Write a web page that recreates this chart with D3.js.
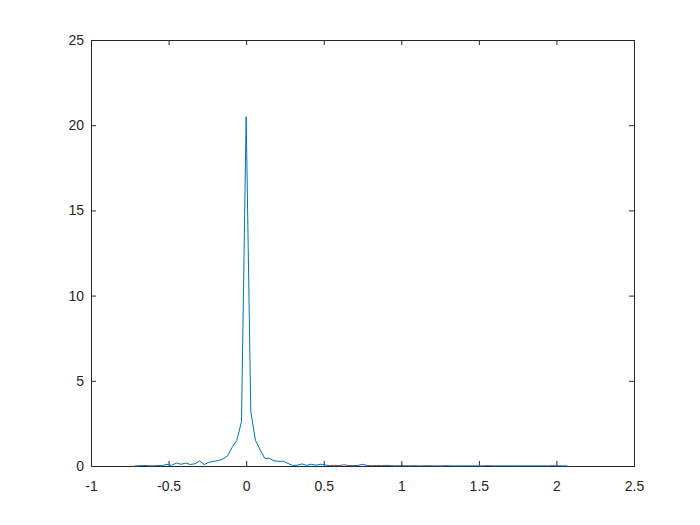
<!DOCTYPE html>
<html>
<head>
<meta charset="utf-8">
<script src="https://cdn.jsdelivr.net/npm/d3@7"></script>
<style>
  body { margin: 0; background: #fff; }
  svg { display: block; }
</style>
</head>
<body>
<script>
// bin centres (step 0.03) and density values
var xStart = -0.72, xStep = 0.03;
var density = [
  0, 0.02, 0.03, 0.02, 0.01, 0.03, 0.02, 0.1, 0.04, 0.18,
  0.1, 0.17, 0.09, 0.13, 0.3, 0.08, 0.22, 0.27, 0.32, 0.4,
  0.6, 1.1, 1.5, 2.6, 20.5, 3.2, 1.5, 0.95, 0.45, 0.45,
  0.3, 0.27, 0.28, 0.15, 0.03, 0.05, 0.12, 0.04, 0.1, 0.05,
  0.1, 0.06, 0.02, 0.04, 0.02, 0.07, 0.03, 0.02, 0.03, 0.1,
  0.03, 0.02, 0.03, 0.02, 0.04, 0.02, 0.01, 0.02, 0.02, 0.01,
  0.02, 0.01, 0.01, 0.02, 0.01, 0.01, 0.01, 0.02, 0.01, 0.01,
  0.01, 0.01, 0.01, 0.01, 0.01, 0.01, 0.02, 0.01, 0.01, 0.01,
  0.01, 0.01, 0.01, 0.01, 0.01, 0.01, 0.01, 0.01, 0.01, 0.01,
  0.02, 0.01, 0.01, 0.01
];
var xTicks = [-1, -0.5, 0, 0.5, 1, 1.5, 2, 2.5];
var yTicks = [0, 5, 10, 15, 20, 25];

var points = density.map(function(v, i) {
  return { x: xStart + i * xStep, y: v };
});

var width = 700, height = 525;
var margin = { left: 91, right: 66, top: 40, bottom: 59 };

var svg = d3.select("body").append("svg")
  .attr("width", width)
  .attr("height", height);

var x = d3.scaleLinear().domain([-1, 2.5]).range([margin.left, width - margin.right]);
var y = d3.scaleLinear().domain([0, 25]).range([height - margin.bottom, margin.top]);

var axisColor = "#262626";
var fontFam = "'Liberation Sans', Arial, Helvetica, sans-serif";
// plain hyphen for negatives, like the original
var fmt = function(d) { return String(d); };

function styleAxis(g) {
  g.select(".domain").remove();
  g.selectAll(".tick line").attr("stroke", axisColor).attr("stroke-width", 1);
  g.selectAll(".tick text").attr("fill", axisColor)
    .style("font-family", fontFam).style("font-size", "14px");
}

// bottom / top
svg.append("g")
  .attr("transform", "translate(0," + y(0) + ")")
  .call(d3.axisBottom(x).tickValues(xTicks).tickSize(-5).tickPadding(15).tickFormat(fmt))
  .call(styleAxis);
svg.append("g")
  .attr("transform", "translate(0," + y(25) + ")")
  .call(d3.axisTop(x).tickValues(xTicks).tickSize(-5).tickFormat(""))
  .call(styleAxis);
// left / right
svg.append("g")
  .attr("transform", "translate(" + x(-1) + ",0)")
  .call(d3.axisLeft(y).tickValues(yTicks).tickSize(-5).tickPadding(7).tickFormat(fmt))
  .call(styleAxis);
svg.append("g")
  .attr("transform", "translate(" + x(2.5) + ",0)")
  .call(d3.axisRight(y).tickValues(yTicks).tickSize(-5).tickFormat(""))
  .call(styleAxis);

// box
svg.append("rect")
  .attr("x", x(-1) + 0.5)
  .attr("y", y(25) + 0.5)
  .attr("width", x(2.5) - x(-1))
  .attr("height", y(0) - y(25))
  .attr("fill", "none")
  .attr("stroke", axisColor)
  .attr("stroke-width", 1);

var line = d3.line()
  .x(function(d) { return x(d.x); })
  .y(function(d) { return y(d.y); });

svg.append("path")
  .datum(points)
  .attr("d", line)
  .attr("fill", "none")
  .attr("stroke", "#0072BD")
  .attr("stroke-width", 1);
</script>
</body>
</html>
